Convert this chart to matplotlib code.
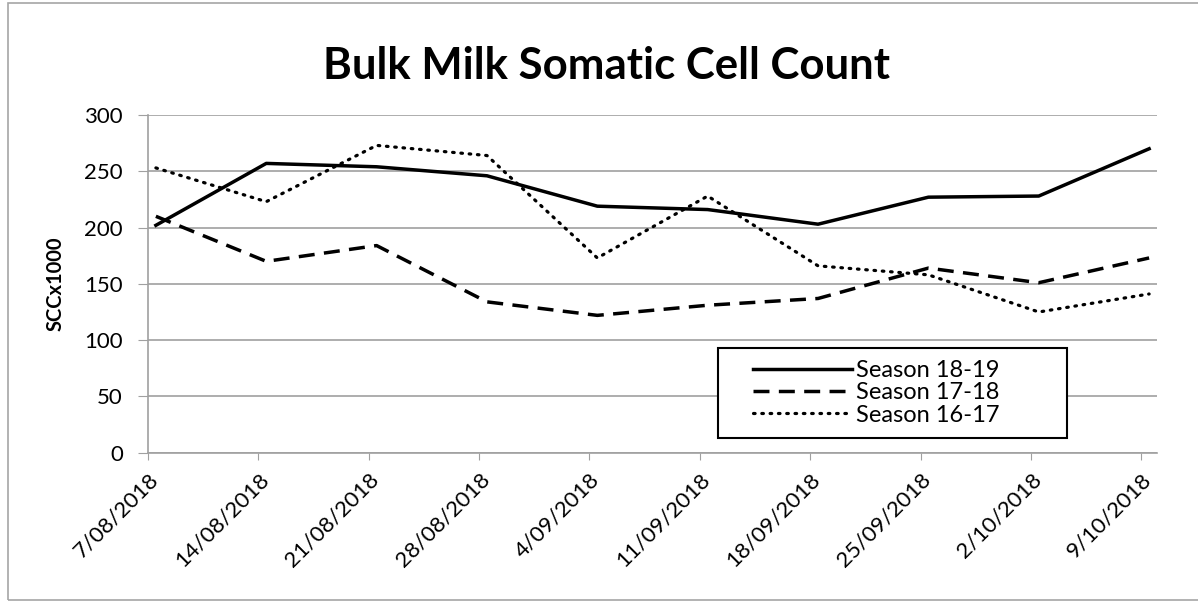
import numpy as np
import pandas as pd
import matplotlib
matplotlib.use("Agg")
import matplotlib.pyplot as plt

# sampling dates (weekly)
dates = pd.date_range("2018-08-07", periods=10, freq="7D")
tick_labels = ["7/08/2018", "14/08/2018", "21/08/2018", "28/08/2018", "4/09/2018",
               "11/09/2018", "18/09/2018", "25/09/2018", "2/10/2018", "9/10/2018"]

season_18_19 = [202, 257, 254, 246, 219, 216, 203, 227, 228, 270]
season_17_18 = [210, 170, 184, 134, 122, 131, 137, 164, 151, 173]
season_16_17 = [253, 223, 273, 264, 173, 228, 166, 158, 125, 141]

plt.rcParams["font.family"] = ["Lato", "DejaVu Sans"]

fig = plt.figure(figsize=(11.98, 6.01), dpi=100)
ax = fig.add_axes([148 / 1198, 1 - 452.7 / 601, 1009 / 1198, 337.7 / 601])

# points sit half a day after the tick in the original date axis
xpts = dates + pd.Timedelta(hours=12)
ax.plot(xpts, season_18_19, color="black", lw=2.5, ls="-", label="Season 18-19")
ax.plot(xpts, season_17_18, color="black", lw=2.5, ls=(0, (4.6, 2.7)), label="Season 17-18")
ax.plot(xpts, season_16_17, color="black", lw=2.3, ls=(0, (0.5, 2.1)),
        dash_capstyle="round", label="Season 16-17")

ax.set_ylim(0, 300)
ax.set_yticks(range(0, 301, 50))
ax.set_xlim(dates[0], dates[-1] + pd.Timedelta(days=1))
ax.set_xticks(dates)
ax.set_xticklabels(tick_labels, rotation=45, ha="right", rotation_mode="anchor")
ax.tick_params(axis="x", length=5, color="#a0a0a0", labelsize=16, pad=7)
ax.tick_params(axis="y", length=7, color="#a0a0a0", labelsize=16, pad=11)

ax.grid(axis="y", color="#a0a0a0", lw=1.2)
ax.set_axisbelow(True)
for s in ["top", "right"]:
    ax.spines[s].set_visible(False)
ax.spines["left"].set_color("#a0a0a0")
ax.spines["bottom"].set_color("#a0a0a0")
ax.spines["left"].set_linewidth(1.2)
ax.spines["bottom"].set_linewidth(1.2)

ax.set_ylabel("SCCx1000", fontsize=14.5, fontweight="bold")
ax.yaxis.set_label_coords(-0.082, 0.5)
fig.text(0.506, 1 - 79 / 601, "Bulk Milk Somatic Cell Count", ha="center", va="baseline",
         fontsize=31.5, fontweight="bold")

# legend box drawn separately so it can be wider than its content
ax.add_patch(plt.Rectangle((0.565, 0.0435), 0.346, 0.2665, transform=ax.transAxes,
                           fill=True, facecolor="white", edgecolor="black", lw=1.5,
                           zorder=4))
leg = ax.legend(loc="center", bbox_to_anchor=(0.7215, 0.177), fontsize=17,
                frameon=False, handlelength=4.2, handletextpad=0.15,
                borderpad=0, labelspacing=0.05, borderaxespad=0)
leg.set_zorder(5)

fig.patches.append(plt.Rectangle((7.5 / 1198, 1 / 601), 1.1, 597 / 601,
                                 transform=fig.transFigure, fill=False,
                                 edgecolor="#a6a6a6", lw=1.2))

fig.savefig("out.png", dpi=100)
